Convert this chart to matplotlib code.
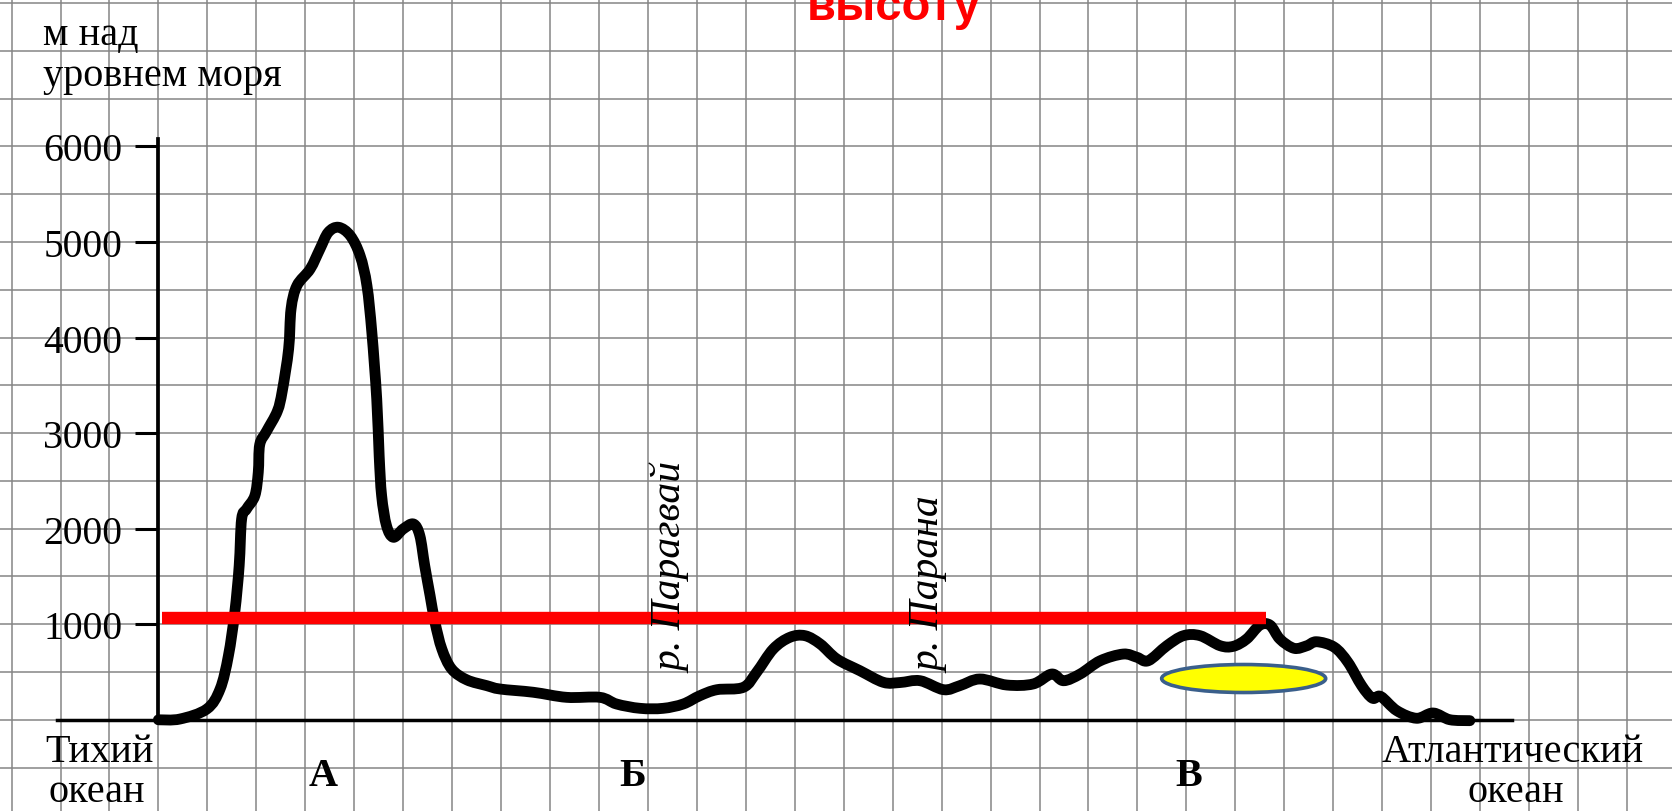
import numpy as np
import matplotlib
matplotlib.use('Agg')
import matplotlib.pyplot as plt
from matplotlib.patches import Ellipse, PathPatch
from matplotlib.path import Path

plt.rcParams['font.family'] = ['Liberation Serif', 'DejaVu Serif']

# Профиль рельефа: расстояние (клетки сетки) и высота (м над уровнем моря)
rasstoyanie = [0, 0.44, 0.99, 1.26, 1.43, 1.56, 1.65, 1.70, 1.80, 1.97, 2.04, 2.07, 2.21, 2.43,
               2.53, 2.66, 2.71, 2.83, 3.10, 3.30, 3.47, 3.68, 3.92, 4.12, 4.26, 4.36, 4.46,
               4.51, 4.56, 4.66, 4.80, 5.00, 5.21, 5.34, 5.44, 5.55, 5.65, 5.79, 5.99, 6.30,
               6.71, 6.98, 7.66, 8.34, 9.02, 9.36, 9.84, 10.31, 10.72, 11.06, 11.41, 11.95,
               12.22, 12.56, 12.90, 13.21, 13.52, 13.86, 14.33, 14.81, 15.15, 15.56, 16.04,
               16.37, 16.78, 17.33, 17.87, 18.25, 18.49, 18.83, 19.24, 19.71, 19.99, 20.22,
               20.60, 20.94, 21.28, 21.69, 21.96, 22.23, 22.50, 22.71, 22.91, 23.20, 23.46,
               23.66, 24.02, 24.30, 24.58, 24.80, 24.97, 25.30, 25.70, 26.04, 26.38, 26.79]
vysota = [0, 8, 113, 322, 671, 1125, 1613, 2101, 2206, 2345, 2590, 2880, 3020, 3230,
          3440, 3880, 4300, 4543, 4717, 4927, 5101, 5154, 5066, 4857, 4543, 4055, 3357,
          2760, 2345, 2031, 1910, 1997, 2049, 1927, 1613, 1299, 1020, 741, 532, 418,
          357, 322, 288, 235, 235, 165, 120, 120, 165, 252, 315, 340,
          497, 741, 863, 880, 793, 636, 514, 392, 390, 409, 315,
          357, 427, 364, 375, 479, 409, 479, 618, 688, 654, 618,
          775, 880, 880, 775, 769, 845, 990, 990, 845, 748, 775,
          817, 760, 602, 357, 226, 244, 95, 16, 71, 1, -9]

# подписи
y_metki = [1000, 2000, 3000, 4000, 5000, 6000]
bukvy = ['А', 'Б', 'В']
reki = ['р. Парагвай', 'р. Парана']

# красная линия и жёлтый овал
krasnaya_vysota = 1061
krasnaya_nachalo, krasnaya_konec = 0.08, 22.62
oval_centr = (22.17, 432)
oval_shirina, oval_vysota = 3.35, 293

W, H = 1672, 812
fs = 29


def fx(x):
    return x / W


def fy(y):
    return 1 - y / H


def plavnyi_put(xs, ys):
    # кривая Безье через точки профиля (Catmull-Rom)
    p = np.column_stack([xs, ys]).astype(float)
    p = np.vstack([p[0], p, p[-1]])
    verts = [p[1]]
    codes = [Path.MOVETO]
    for i in range(1, len(p) - 2):
        c1 = p[i] + (p[i + 1] - p[i - 1]) / 6
        c2 = p[i + 1] - (p[i + 2] - p[i]) / 6
        verts += [c1, c2, p[i + 1]]
        codes += [Path.CURVE4] * 3
    return Path(verts, codes)


fig = plt.figure(figsize=(16.72, 8.12), dpi=100)
ax = fig.add_axes([0, 0, 1, 1])
ax.set_xlim(-3.236, 30.92)
ax.set_ylim(-954.4, 7542.9)

# сетка в клетку
ax.set_xticks([])
ax.set_xticks(np.arange(-3, 31), minor=True)
ax.set_yticks(y_metki)
ax.set_yticks(np.arange(-500, 7501, 500), minor=True)
ax.grid(which='both', color='#858585', linewidth=1.1)
ax.set_axisbelow(True)
ax.tick_params(axis='x', which='both', length=0, labelbottom=False)
ax.tick_params(axis='y', which='minor', length=0)
ax.tick_params(axis='y', which='major', length=16.5, width=2.2, direction='out',
               pad=9.5, labelsize=28.5, color='black')

for s in ['top', 'right']:
    ax.spines[s].set_visible(False)
ax.spines['left'].set_position(('data', 0))
ax.spines['left'].set_bounds(0, 6078)
ax.spines['left'].set_linewidth(2.7)
ax.spines['bottom'].set_position(('data', 0))
ax.spines['bottom'].set_bounds(-2.065, 27.65)
ax.spines['bottom'].set_linewidth(2.5)

# профиль
ax.add_patch(PathPatch(plavnyi_put(rasstoyanie, vysota), fill=False, edgecolor='black',
                       linewidth=7.8, capstyle='round', joinstyle='round', zorder=3))

# красная линия
ax.plot([krasnaya_nachalo, krasnaya_konec], [krasnaya_vysota, krasnaya_vysota],
        color='#ff0000', linewidth=8.9, solid_capstyle='butt', zorder=4)

# овал
ax.add_patch(Ellipse(oval_centr, oval_shirina, oval_vysota, facecolor='#ffff00',
                     edgecolor='#3a5f8b', linewidth=2.6, zorder=5))

# тексты
fig.text(fx(43), fy(45), 'м над', fontsize=fs, ha='left', va='baseline')
fig.text(fx(43), fy(86), 'уровнем моря', fontsize=fs, ha='left', va='baseline')

fig.text(fx(45), fy(762), 'Тихий', fontsize=fs, ha='left', va='baseline')
fig.text(fx(49), fy(802), 'океан', fontsize=fs, ha='left', va='baseline')

fig.text(fx(1513), fy(762), 'Атлантический', fontsize=fs, ha='center', va='baseline')
fig.text(fx(1516), fy(802), 'океан', fontsize=fs, ha='center', va='baseline')

for b, x in zip(bukvy, [323, 633, 1189]):
    fig.text(fx(x), fy(786), b, fontsize=fs, fontweight='bold',
             ha='center', va='baseline')

for r, x in zip(reki, [672, 930]):
    fig.text(fx(x), fy(673), r, fontsize=30, style='italic',
             rotation=90, ha='center', va='bottom')

fig.text(fx(894), fy(20), 'высоту', fontsize=34, family='Liberation Sans',
         fontweight='bold', color='#ff0000', ha='center', va='baseline')

fig.savefig('out.png', dpi=100)
